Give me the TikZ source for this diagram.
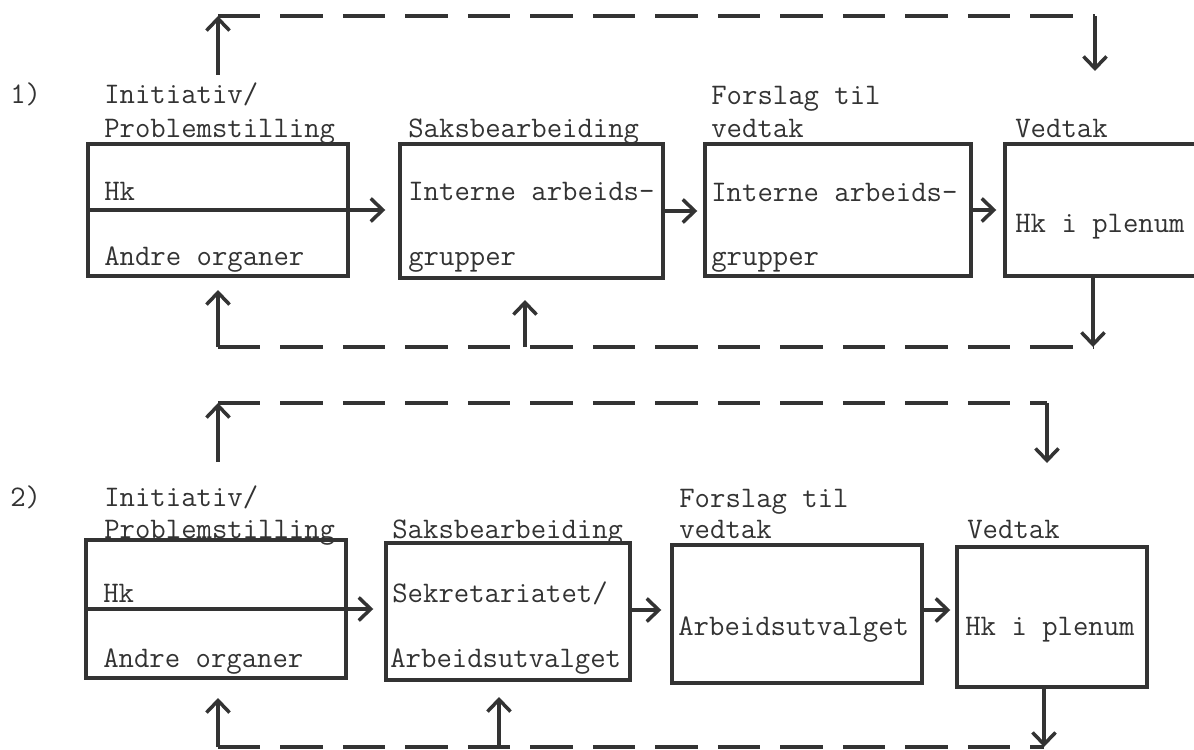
\documentclass[tikz,border=0pt]{standalone}
\usetikzlibrary{arrows.meta}
\definecolor{ink}{rgb}{0.2,0.2,0.2}
\tikzset{
  box/.style={draw=ink, line width=2pt, inner sep=0pt},
  txt/.style={text=ink, inner sep=0pt, anchor=base west, font=\fontsize{17}{20}\selectfont\ttfamily},
  flow/.style={draw=ink, line width=2pt, -{Straight Barb[length=2.4mm,width=4.6mm,line width=2pt]}},
  back/.style={draw=ink, line width=2pt, dash pattern=on 8.5mm off 4mm}
}

\begin{document}
\begin{tikzpicture}[x=0.02cm, y=-0.02cm]
    \useasboundingbox (0,0) rectangle (1194,750);

    \node[box, minimum width=260*0.2mm, minimum height=132*0.2mm] (p1init) at (218,210) {};
    \node[box, minimum width=263*0.2mm, minimum height=134*0.2mm] (p1saks) at (531.5,211) {};
    \node[box, minimum width=266*0.2mm, minimum height=132*0.2mm] (p1fors) at (838,210) {};
    \node[box, minimum width=210*0.2mm, minimum height=132*0.2mm] (p1ved) at (1110,210) {};

    \node[txt] (p1num) at (10,104) {1)};
    \node[txt] (p1inita) at (104,104) {Initiativ/};
    \node[txt] (p1initb) at (104,137) {Problemstilling};
    \node[txt] (p1saksa) at (408,137) {Saksbearbeiding};
    \node[txt] (p1forsa) at (711,105) {Forslag til};
    \node[txt] (p1forsb) at (711,137) {vedtak};
    \node[txt] (p1veda) at (1015,137) {Vedtak};

    \node[txt] (p1hk) at (104,200) {Hk};
    \node[txt] (p1andre) at (104,265) {Andre organer};
    \node[txt] (p1saksc) at (408,200) {Interne arbeids-};
    \node[txt] (p1saksd) at (408,265) {grupper};
    \node[txt] (p1forsc) at (711,201) {Interne arbeids-};
    \node[txt] (p1forsd) at (711,265) {grupper};
    \node[txt] (p1vedb) at (1015,233) {Hk i plenum};

    \draw[flow, shorten >=2.6mm] (p1init.west) -- (p1init.west -| p1saks.west);
    \draw[flow, shorten >=1.2mm] (p1saks.east) -- (p1saks.east -| p1fors.west);
    \draw[flow, shorten >=1.4mm] (p1fors.east) -- (p1fors.east -| p1ved.west);

    \coordinate (p1up) at (218,75);
    \coordinate (p1tl) at (218,16);
    \coordinate (p1tr) at (1095,16);
    \coordinate (p1dn) at (1095,71);
    \draw[flow] (p1up) -- (p1tl);
    \draw[back] (p1tl) -- (p1tr);
    \draw[flow] (p1tr) -- (p1dn);

    \coordinate (p1br) at (1093,347);
    \coordinate (p1bl) at (218,347);
    \coordinate (p1bm) at (525,347);
    \draw[flow] (p1ved.south -| p1br) -- (p1br);
    \draw[back] (p1bl) -- (p1br);
    \draw[flow] (p1bl) -- (218,290);
    \draw[flow] (p1bm) -- (525,300);

    \node[box, minimum width=260*0.2mm, minimum height=138*0.2mm] (p2init) at (216,609) {};
    \node[box, minimum width=244*0.2mm, minimum height=137*0.2mm] (p2saks) at (508,611.5) {};
    \node[box, minimum width=250*0.2mm, minimum height=138*0.2mm] (p2fors) at (797,614) {};
    \node[box, minimum width=190*0.2mm, minimum height=140*0.2mm] (p2ved) at (1052,617) {};

    \node[txt] (p2num) at (10,506) {2)};
    \node[txt] (p2inita) at (104,506) {Initiativ/};
    \node[txt] (p2initb) at (104,538) {Problemstilling};
    \node[txt] (p2saksa) at (392,538) {Saksbearbeiding};
    \node[txt] (p2forsa) at (679,507) {Forslag til};
    \node[txt] (p2forsb) at (679,538) {vedtak};
    \node[txt] (p2veda) at (967,538) {Vedtak};

    \node[txt] (p2hk) at (103,602) {Hk};
    \node[txt] (p2andre) at (103,667) {Andre organer};
    \node[txt] (p2saksc) at (392,602) {Sekretariatet/};
    \node[txt] (p2saksd) at (390,667) {Arbeidsutvalget};
    \node[txt] (p2forsc) at (678,635) {Arbeidsutvalget};
    \node[txt] (p2vedb) at (965,635) {Hk i plenum};

    \draw[flow, shorten >=2.2mm] (p2init.west) -- (p2init.west -| p2saks.west);
    \draw[flow, shorten >=1.8mm] (p2saks.east |- 0,610) -- (p2fors.west |- 0,610);
    \draw[flow, shorten >=1mm] (p2fors.east |- 0,610) -- (p2ved.west |- 0,610);

    \coordinate (p2up) at (218,462);
    \coordinate (p2tl) at (218,403);
    \coordinate (p2tr) at (1047,403);
    \coordinate (p2dn) at (1047,463);
    \draw[flow] (p2up) -- (p2tl);
    \draw[back] (p2tl) -- (p2tr);
    \draw[flow] (p2tr) -- (p2dn);

    \coordinate (p2br) at (1044,747);
    \coordinate (p2bl) at (218,747);
    \coordinate (p2bm) at (499,747);
    \draw[flow] (p2ved.south -| p2br) -- (p2br);
    \draw[back] (p2bl) -- (p2br);
    \draw[flow] (p2bl) -- (218,698);
    \draw[flow] (p2bm) -- (499,697);
\end{tikzpicture}
\end{document}
